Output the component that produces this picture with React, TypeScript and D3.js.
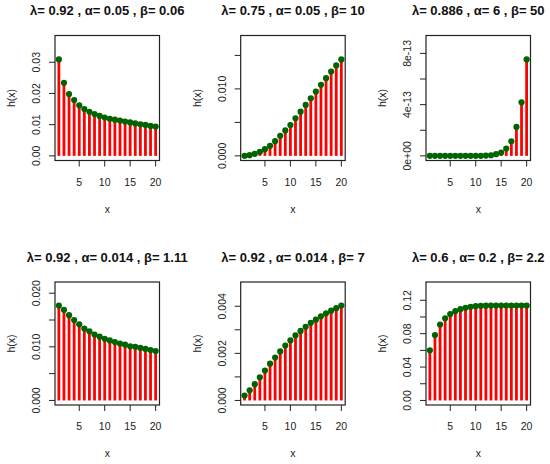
import React, { useEffect, useRef } from 'react';
import * as d3 from 'd3';

// x positions 1..20
const xValues = [1, 2, 3, 4, 5, 6, 7, 8, 9, 10, 11, 12, 13, 14, 15, 16, 17, 18, 19, 20];
const xTicks = [5, 10, 15, 20];

const titles = [
  'λ= 0.92 , α= 0.05 , β= 0.06',
  'λ= 0.75 , α= 0.05 , β= 10',
  'λ= 0.886 , α= 6 , β= 50',
  'λ= 0.92 , α= 0.014 , β= 1.11',
  'λ= 0.92 , α= 0.014 , β= 7',
  'λ= 0.6 , α= 0.2 , β= 2.2',
];

const h1 = [0.0309, 0.0234, 0.0198, 0.0179, 0.0162, 0.0150, 0.0141, 0.0134, 0.0128, 0.0123,
  0.0119, 0.0116, 0.0113, 0.0110, 0.0107, 0.0104, 0.0101, 0.0099, 0.0096, 0.0094];
const h2 = [0.0000, 0.0001, 0.0003, 0.0006, 0.0010, 0.0015, 0.0022, 0.0030, 0.0038, 0.0046,
  0.0056, 0.0066, 0.0076, 0.0086, 0.0096, 0.0106, 0.0116, 0.0126, 0.0135, 0.0144];
const h3 = [0.00001e-13, 0.00002e-13, 0.00003e-13, 0.00005e-13, 0.00008e-13, 0.0001e-13, 0.0002e-13,
  0.0004e-13, 0.0008e-13, 0.002e-13, 0.005e-13, 0.02e-13, 0.05e-13, 0.13e-13, 0.26e-13,
  0.57e-13, 1.14e-13, 2.26e-13, 4.18e-13, 7.53e-13];
const h4 = [0.0177, 0.0169, 0.0159, 0.0150, 0.0142, 0.0134, 0.0129, 0.0123, 0.0119, 0.0115,
  0.0112, 0.0109, 0.0106, 0.0104, 0.0101, 0.0100, 0.0098, 0.0096, 0.0094, 0.0092];
const h5 = [0.00021, 0.00043, 0.00069, 0.00098, 0.00127, 0.00156, 0.00182, 0.00208, 0.00233, 0.00255,
  0.00276, 0.00295, 0.00313, 0.00330, 0.00343, 0.00357, 0.00370, 0.00381, 0.00392, 0.00403];
const h6 = [0.0600, 0.0784, 0.0910, 0.0984, 0.1035, 0.1070, 0.1094, 0.1110, 0.1122, 0.1129,
  0.1133, 0.1135, 0.1136, 0.1137, 0.1137, 0.1137, 0.1137, 0.1137, 0.1137, 0.1137];
const series = [h1, h2, h3, h4, h5, h6];

const yTicks = [
  [0, 0.01, 0.02, 0.03],
  [0, 0.005, 0.01, 0.015],
  [0, 2e-13, 4e-13, 6e-13, 8e-13],
  [0, 0.005, 0.01, 0.015, 0.02],
  [0, 0.001, 0.002, 0.003, 0.004],
  [0, 0.02, 0.04, 0.06, 0.08, 0.1, 0.12],
];
const yTickLabels = [
  ['0.00', '0.01', '0.02', '0.03'],
  ['0.000', '', '0.010', ''],
  ['0e+00', '', '4e-13', '', '8e-13'],
  ['0.000', '', '0.010', '', '0.020'],
  ['0.000', '', '0.002', '', '0.004'],
  ['0.00', '', '0.04', '', '0.08', '', '0.12'],
];

const W = 550;
const H = 464;
const colLeft = [55, 240.7, 426];
const rowTop = [35.5, 282];
const rowHeight = [125, 123];
const boxW = 104.5;
const font = 'Liberation Sans, Arial, Helvetica, sans-serif';

export default function App() {
  const ref = useRef<SVGSVGElement>(null);

  useEffect(() => {
    if (!ref.current) return;
    const svg = d3.select(ref.current);
    svg.selectAll('*').remove();

    series.forEach((vals, i) => {
      const left = colLeft[i % 3];
      const top = rowTop[Math.floor(i / 3)];
      const bh = rowHeight[Math.floor(i / 3)];
      const g = svg.append('g').attr('transform', `translate(${left},${top})`);

      // R style: 4% padding, ylim = c(0, 1.2 * max)
      const x = d3.scaleLinear().domain([1 - 0.76, 20 + 0.76]).range([0, boxW]);
      const ymax = 1.2 * (d3.max(vals) as number);
      const y = d3.scaleLinear().domain([-0.04 * ymax, 1.04 * ymax]).range([bh, 0]);

      // vertical lines (type = "h")
      g.selectAll('line.h')
        .data(vals)
        .enter()
        .append('line')
        .attr('x1', (_, j) => x(xValues[j]))
        .attr('x2', (_, j) => x(xValues[j]))
        .attr('y1', y(0))
        .attr('y2', d => y(d))
        .attr('stroke', '#ff0000')
        .attr('stroke-width', 2.8);

      g.selectAll('circle')
        .data(vals)
        .enter()
        .append('circle')
        .attr('cx', (_, j) => x(xValues[j]))
        .attr('cy', d => y(d))
        .attr('r', 3.1)
        .attr('fill', '#006400');

      // box
      g.append('rect')
        .attr('x', 0).attr('y', 0)
        .attr('width', boxW).attr('height', bh)
        .attr('fill', 'none')
        .attr('stroke', '#222')
        .attr('stroke-width', 1.2);

      // x axis
      xTicks.forEach(t => {
        g.append('line')
          .attr('x1', x(t)).attr('x2', x(t))
          .attr('y1', bh).attr('y2', bh + 6)
          .attr('stroke', '#222');
        g.append('text')
          .attr('x', x(t)).attr('y', bh + 21)
          .attr('text-anchor', 'middle')
          .attr('dominant-baseline', 'central')
          .attr('font-family', font)
          .attr('font-size', 10.5)
          .attr('fill', '#222')
          .text(String(t));
      });

      // y axis
      yTicks[i].forEach((t, k) => {
        g.append('line')
          .attr('x1', -6).attr('x2', 0)
          .attr('y1', y(t)).attr('y2', y(t))
          .attr('stroke', '#222');
        const lab = yTickLabels[i][k];
        if (lab) {
          g.append('text')
            .attr('transform', `translate(${-19},${y(t)}) rotate(-90)`)
            .attr('text-anchor', 'middle')
            .attr('dominant-baseline', 'central')
            .attr('font-family', font)
            .attr('font-size', 10.5)
            .attr('fill', '#222')
            .text(lab);
        }
      });

      g.append('text')
        .attr('x', boxW / 2).attr('y', bh + 48)
        .attr('text-anchor', 'middle')
        .attr('dominant-baseline', 'central')
        .attr('font-family', font)
        .attr('font-size', 10.5)
        .attr('fill', '#222')
        .text('x');

      g.append('text')
        .attr('transform', `translate(${-44},${bh / 2}) rotate(-90)`)
        .attr('text-anchor', 'middle')
        .attr('dominant-baseline', 'central')
        .attr('font-family', font)
        .attr('font-size', 10.5)
        .attr('fill', '#222')
        .text('h(x)');

      g.append('text')
        .attr('x', boxW / 2).attr('y', -25)
        .attr('text-anchor', 'middle')
        .attr('dominant-baseline', 'central')
        .attr('font-family', font)
        .attr('font-size', 13)
        .attr('font-weight', 'bold')
        .attr('fill', '#111')
        .text(titles[i]);
    });
  }, []);

  return (
    <div style={{ position: 'fixed', left: 0, top: 0, width: W, height: H, background: '#fff' }}>
      <svg ref={ref} width={W} height={H} viewBox={`0 0 ${W} ${H}`} />
    </div>
  );
}
